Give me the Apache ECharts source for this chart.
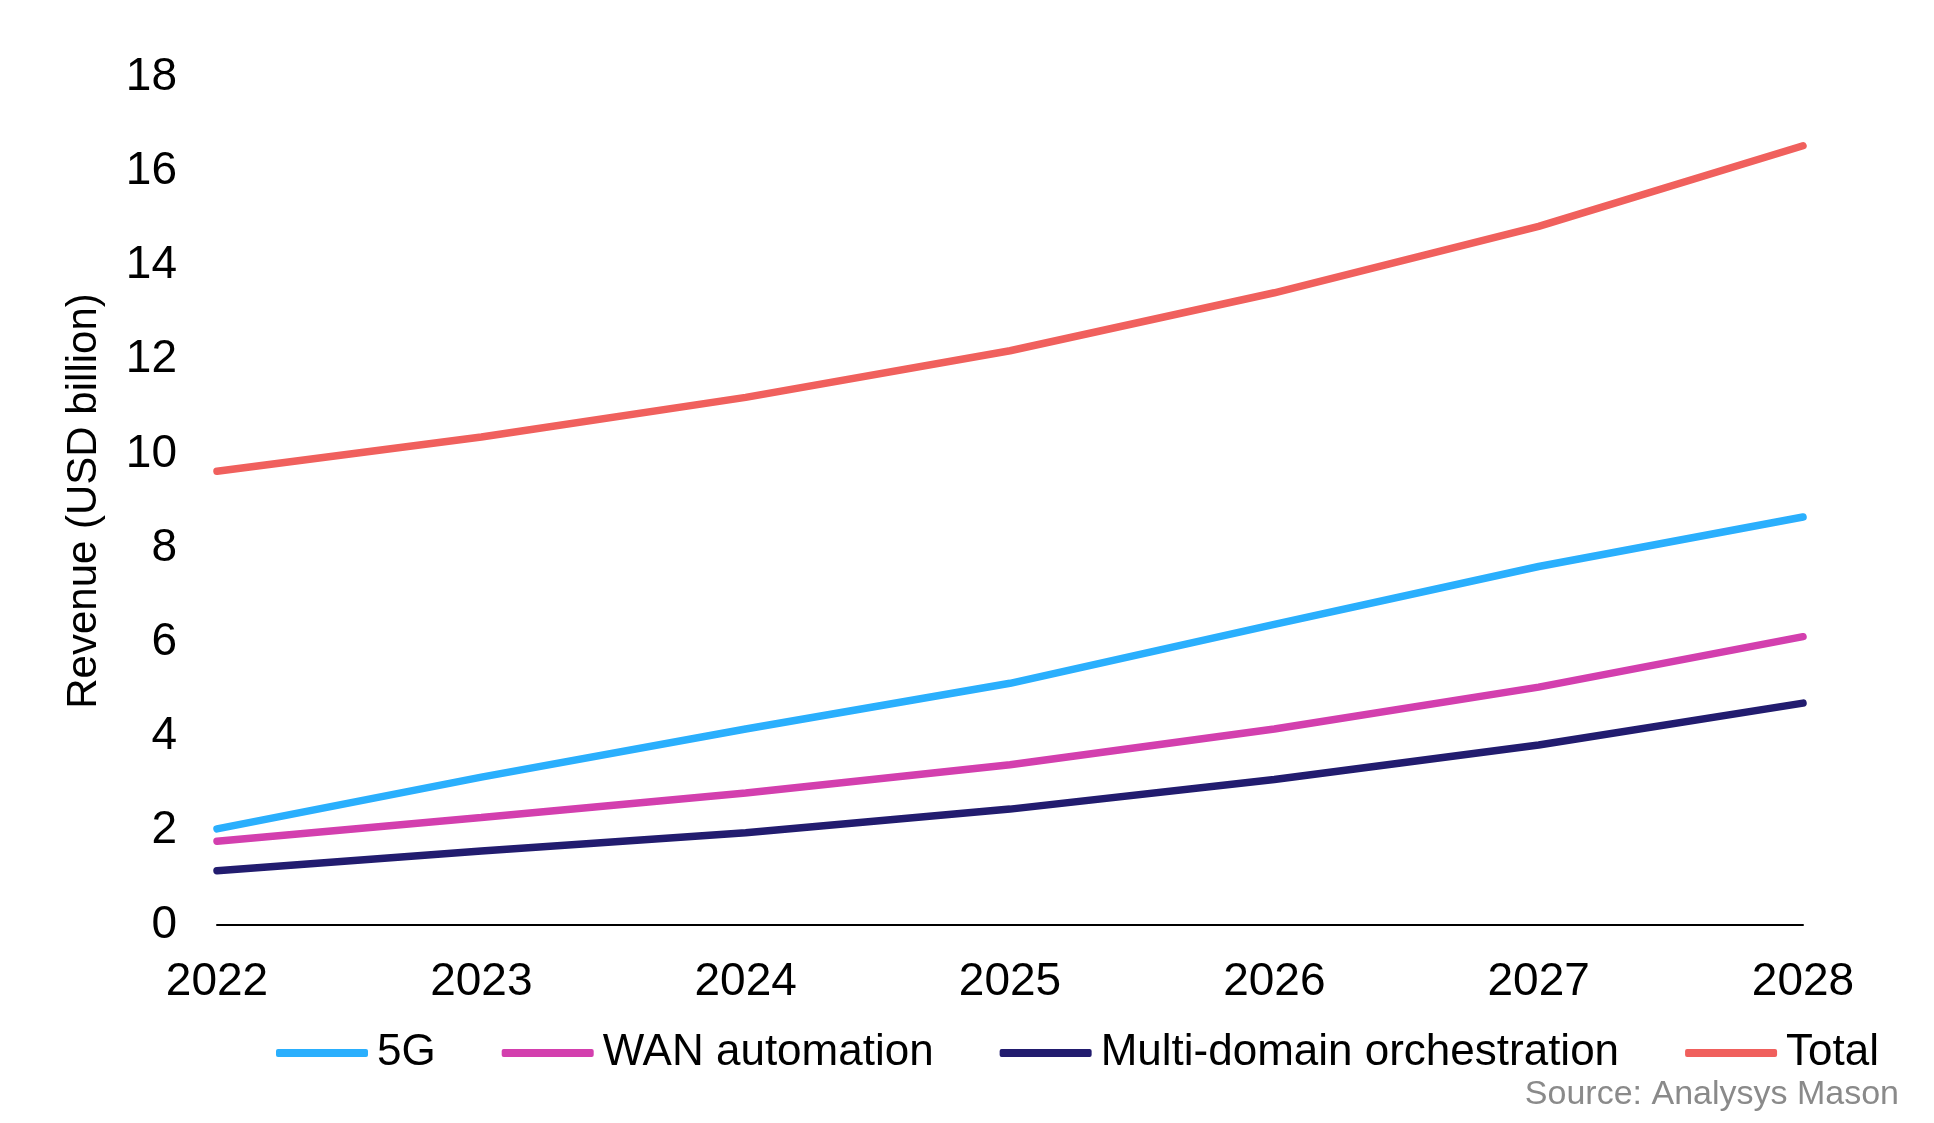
<!DOCTYPE html>
<html><head><meta charset="utf-8">
<script src="https://cdn.jsdelivr.net/npm/echarts@6/dist/echarts.min.js"></script>
<style>html,body{margin:0;padding:0;background:#fff}#c{width:1934px;height:1123px}</style>
</head><body><div id="c"></div>
<script>
const years = ['2022','2023','2024','2025','2026','2027','2028'];
const s5G = [2.04, 3.14, 4.16, 5.13, 6.38, 7.61, 8.66];
const sWAN = [1.78, 2.28, 2.80, 3.40, 4.16, 5.05, 6.12];
const sMDO = [1.15, 1.57, 1.96, 2.46, 3.09, 3.82, 4.71];
const sTotal = [9.63, 10.36, 11.20, 12.19, 13.42, 14.83, 16.54];
const names = ['5G', 'WAN automation', 'Multi-domain orchestration', 'Total'];
const colors = ['#2AAFFD', '#D33FAE', '#221C6F', '#F0605D'];
const FONT = 'Liberation Sans';

const chart = echarts.init(document.getElementById('c'));
const mk = (name, data, color) => ({
  name, type: 'line', data, symbol: 'none', smooth: false,
  lineStyle: { color, width: 7.5, cap: 'round' }, itemStyle: { color }
});
chart.setOption({
  animation: false,
  textStyle: { fontFamily: FONT },
  grid: { left: 217, right: 131, top: 77, bottom: 198 },
  xAxis: {
    type: 'category', data: years, boundaryGap: false,
    axisLine: { lineStyle: { color: '#000', width: 2 } },
    axisTick: { show: false },
    axisLabel: { color: '#000', fontSize: 46, margin: 34, fontFamily: FONT }
  },
  yAxis: {
    type: 'value', min: 0, max: 18, interval: 2,
    name: 'Revenue (USD billion)', nameLocation: 'middle', nameGap: 112,
    nameTextStyle: { color: '#000', fontSize: 42, fontFamily: FONT },
    axisLine: { show: false }, axisTick: { show: false }, splitLine: { show: false },
    axisLabel: { color: '#000', fontSize: 46, margin: 40, fontFamily: FONT }
  },
  legend: {
    data: names, left: 271, top: 1026, itemWidth: 92, itemHeight: 8, itemGap: 66,
    icon: 'roundRect',
    textStyle: { color: '#000', fontSize: 44, fontFamily: FONT, padding: [0, 0, 0, 4] }
  },
  series: [
    mk(names[0], s5G, colors[0]),
    mk(names[1], sWAN, colors[1]),
    mk(names[2], sMDO, colors[2]),
    mk(names[3], sTotal, colors[3])
  ],
  graphic: [{
    type: 'text', right: 35, top: 1078,
    style: { text: 'Source: Analysys Mason', fill: '#8a8a8a', font: '34px "Liberation Sans"' }
  }]
});
</script></body></html>
